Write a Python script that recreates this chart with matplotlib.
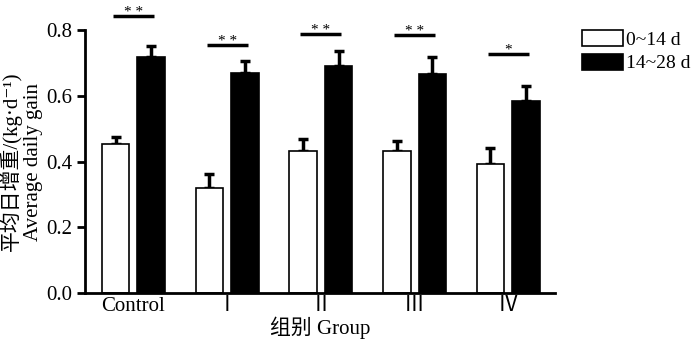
import matplotlib.pyplot as plt
import numpy as np

groups = ["Control", "Ⅰ", "Ⅱ", "Ⅲ", "Ⅳ"]
series_labels = ["0~14 d", "14~28 d"]
early = [0.454, 0.321, 0.433, 0.432, 0.393]
early_err = [0.020, 0.040, 0.036, 0.031, 0.049]
late = [0.719, 0.669, 0.690, 0.666, 0.584]
late_err = [0.033, 0.037, 0.046, 0.051, 0.046]
sig_marks = ["* *", "* *", "* *", "* *", "*"]
sig_heights = [0.843, 0.754, 0.787, 0.785, 0.727]

fonts = ["Liberation Serif", "Noto Sans CJK SC", "DejaVu Sans"]
plt.rcParams["font.family"] = fonts

fig = plt.figure(figsize=(7, 3.46), dpi=100)
ax = fig.add_axes([0.121, 0.153, 0.672, 0.76])

x = np.arange(len(groups))
w = 0.295
off = 0.19

b1 = ax.bar(x - off, early, w, color="white", edgecolor="black", linewidth=1.2,
            label=series_labels[0], zorder=2)
b2 = ax.bar(x + off, late, w, color="black", edgecolor="black", linewidth=1.2,
            label=series_labels[1], zorder=2)
ax.errorbar(x - off, early, yerr=[np.zeros(len(x)), early_err], fmt="none",
            ecolor="black", elinewidth=2.5, capsize=3.5, capthick=2.5, zorder=1)
ax.errorbar(x + off, late, yerr=[np.zeros(len(x)), late_err], fmt="none",
            ecolor="black", elinewidth=2.5, capsize=3.5, capthick=2.5, zorder=1)

for xi, h, m in zip(x, sig_heights, sig_marks):
    ax.plot([xi - 0.22, xi + 0.22], [h, h], color="black", lw=2.5,
            clip_on=False, solid_capstyle="butt")
    ax.text(xi, h - 0.008, m, ha="center", va="bottom", fontsize=11,
            clip_on=False)

ax.set_xlim(-0.52, 4.5)
ax.set_ylim(0, 0.8)
ax.set_yticks([0.0, 0.2, 0.4, 0.6, 0.8])
ax.set_yticklabels(["0.0", "0.2", "0.4", "0.6", "0.8"])
ax.set_xticks(x)
ax.set_xticklabels(groups)
ax.tick_params(axis="y", length=6, width=2, labelsize=15, direction="out", pad=3)
ax.tick_params(axis="x", length=0, labelsize=15, pad=3)
for s in ["top", "right"]:
    ax.spines[s].set_visible(False)
for s in ["left", "bottom"]:
    ax.spines[s].set_linewidth(2)

ax.set_xlabel("组别 Group", fontsize=15, labelpad=0)
ax.set_ylabel("平均日增重/(kg·d⁻¹)\nAverage daily gain", fontsize=15,
              labelpad=2, linespacing=1.15)

ax.legend(handles=[b1, b2], loc="upper left", bbox_to_anchor=(1.04, 1.03),
          frameon=False, fontsize=14, handlelength=2.1, handleheight=0.9,
          handletextpad=0.2, labelspacing=0.25, borderaxespad=0)

fig.savefig("out.png", dpi=100)
